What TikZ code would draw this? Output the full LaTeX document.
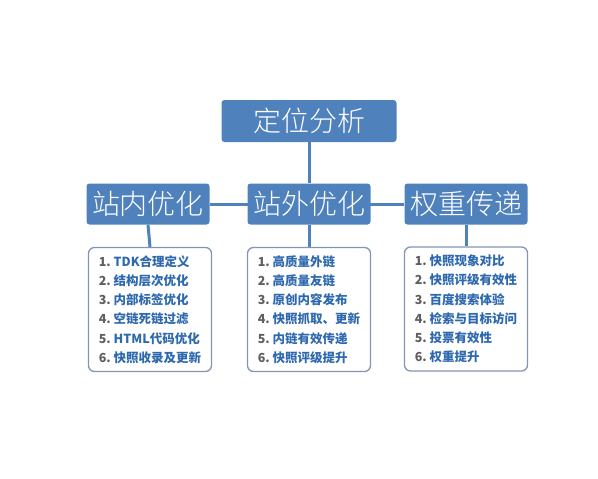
\documentclass[tikz,border=0pt]{standalone}
\usepackage{fontspec}
\setmainfont{Noto Sans CJK SC}
\newfontfamily\lightcjk{Noto Sans CJK SC Light}
\usetikzlibrary{backgrounds}
\definecolor{boxblue}{RGB}{79,129,189}
\definecolor{itemblue}{RGB}{46,105,175}
\definecolor{numgray}{RGB}{95,95,95}
\definecolor{frame}{RGB}{130,150,180}
\tikzset{
  x=1pt, y=-1pt,
  headbox/.style={fill=boxblue, draw=none, rounded corners=3pt, text=white,
    font=\lightcjk\fontsize{28}{30}\selectfont, inner sep=0pt},
  itembox/.style={draw=frame, line width=1.3pt, fill=white, rounded corners=6pt,
    minimum width=123pt, minimum height=124pt, inner sep=0pt},
  itemtext/.style={align=left, inner sep=0pt,
    font=\fontsize{12.5}{19.2}\selectfont\bfseries, text=itemblue},
  link/.style={draw=boxblue, line width=3pt}
}
\newcommand{\nm}[1]{{\color{numgray}#1.}\ }
\begin{document}
\begin{tikzpicture}
\useasboundingbox (0,0) rectangle (598,479);
\node[headbox, minimum width=175pt, minimum height=42pt] (top) at (309,121) {定位分析};
\node[headbox, minimum width=123pt, minimum height=41pt] (l) at (148,204) {站内优化};
\node[headbox, minimum width=123pt, minimum height=41pt] (m) at (309,204) {站外优化};
\node[headbox, minimum width=123pt, minimum height=41pt] (r) at (466,204) {权重传递};
\node[itembox] (la) at (150,309.5) {};
\node[itembox] (ma) at (309,309.5) {};
\node[itembox] (ra) at (466,309) {};
\node[itemtext] (lat) at (la.center) {\nm1TDK合理定义\\ \nm2结构层次优化\\ \nm3内部标签优化\\ \nm4空链死链过滤\\ \nm5HTML代码优化\\ \nm6快照收录及更新};
\node[itemtext] (mat) at (ma.center) {\nm1高质量外链\\ \nm2高质量友链\\ \nm3原创内容发布\\ \nm4快照抓取、更新\\ \nm5内链有效传递\\ \nm6快照评级提升};
\node[itemtext] (rat) at (ra.center) {\nm1快照现象对比\\ \nm2快照评级有效性\\ \nm3百度搜索体验\\ \nm4检索与目标访问\\ \nm5投票有效性\\ \nm6权重提升};
\begin{scope}[on background layer]
\draw[link] (top.south) -- (m.north);
\draw[link] (l.east) -- (r.west);
\draw[link] (l.south) -- (la.north);
\draw[link] (m.south) -- (ma.north);
\draw[link] (r.south) -- (ra.north);
\end{scope}
\end{tikzpicture}
\end{document}
